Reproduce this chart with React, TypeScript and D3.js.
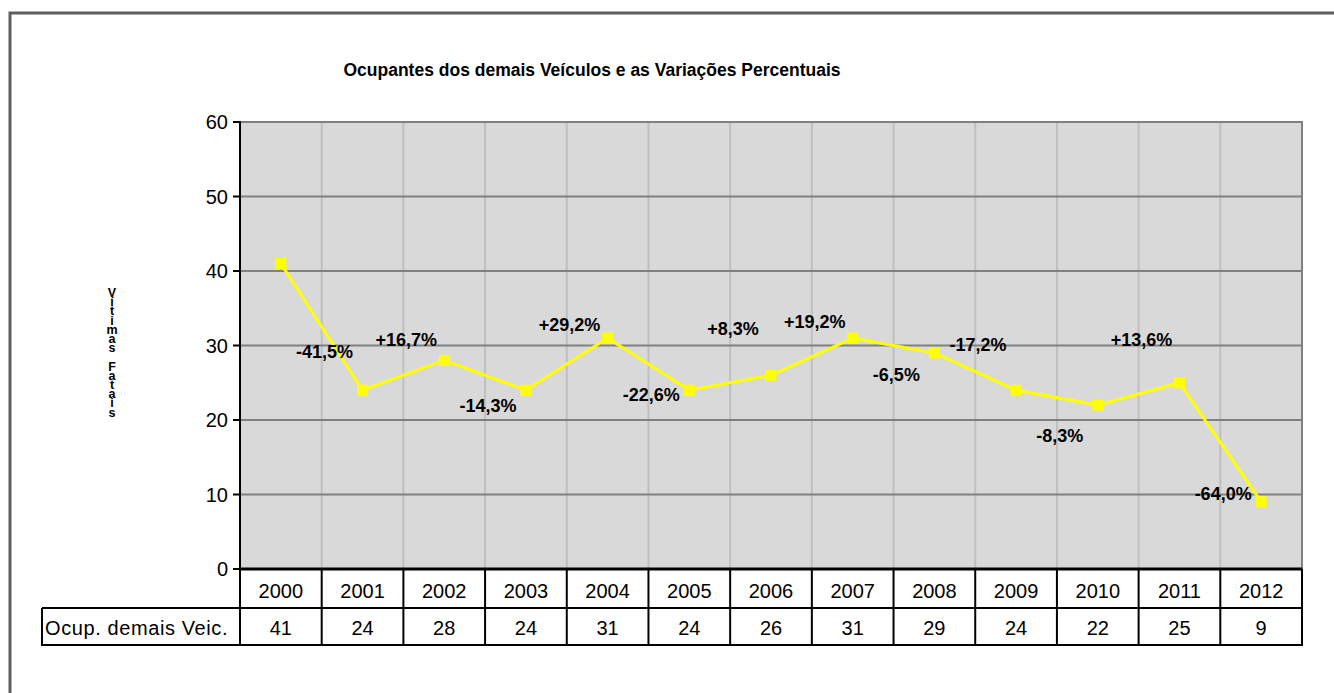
import React from "react";
import * as d3 from "d3";

const years = ["2000","2001","2002","2003","2004","2005","2006","2007","2008","2009","2010","2011","2012"];
const values = [41,24,28,24,31,24,26,31,29,24,22,25,9];
const pctLabels = ["","-41,5%","+16,7%","-14,3%","+29,2%","-22,6%","+8,3%","+19,2%","-6,5%","-17,2%","-8,3%","+13,6%","-64,0%"];
const pctLabelLevel = [0,29.2,30.8,21.9,32.8,23.4,32.3,33.2,26.1,30.1,17.9,30.8,10.1];
const yTicks = [0,10,20,30,40,50,60];
const seriesName = "Ocup. demais Veic.";
const title = "Ocupantes dos demais Veículos e as Variações Percentuais";
const yTitle = "Vítimas Fatais";

export default function App() {
  const W = 1334, H = 693;
  const left = 240, right = 1302, top = 122, bottom = 569;
  const x = d3.scaleBand<string>().domain(years).range([left, right]).padding(0);
  const y = d3.scaleLinear().domain([0, 60]).range([bottom, top]);
  const font = "'Liberation Sans', Arial, sans-serif";
  const line = d3.line<number>().x((_, i) => (x(years[i]) as number) + x.bandwidth() / 2).y(d => y(d));
  const row1Top = bottom, row2Top = 608, row2Bottom = 645;
  const tableLeft = 42;
  return (
    <svg width={W} height={H} style={{ position: "absolute", left: 0, top: 0 }} fontFamily={font}>
      <rect x={0} y={0} width={W} height={H} fill="#fff" />
      <rect x={10} y={13} width={1400} height={800} fill="none" stroke="#5f5f5f" strokeWidth={3} />
      <text x={592} y={76} textAnchor="middle" fontSize={17.5} fontWeight="bold">{title}</text>
      <rect x={left} y={top} width={right - left} height={bottom - top} fill="#d9d9d9" />
      {years.slice(1).map(yr => (
        <line key={yr} x1={x(yr)} x2={x(yr)} y1={top} y2={bottom} stroke="#c0c0c0" strokeWidth={2} />
      ))}
      {yTicks.slice(1).map(t => (
        <line key={t} x1={left} x2={right} y1={y(t)} y2={y(t)} stroke="#808080" strokeWidth={2} />
      ))}
      <line x1={right} x2={right} y1={top - 1} y2={bottom} stroke="#808080" strokeWidth={2} />
      <line x1={left} x2={left} y1={top - 1} y2={row2Bottom} stroke="#000" strokeWidth={2} />
      {yTicks.map(t => (
        <g key={t}>
          <line x1={233} x2={left} y1={y(t)} y2={y(t)} stroke="#000" strokeWidth={2} />
          <text x={228} y={y(t)} dy="0.35em" textAnchor="end" fontSize={20}>{t}</text>
        </g>
      ))}
      <text x={112} y={286} fontSize={12.5} fontWeight="bold" textAnchor="start"
        style={{ writingMode: "vertical-rl", textOrientation: "upright", letterSpacing: "-4.8px" } as any}>
        {yTitle}
      </text>
      <path d={line(values) || ""} fill="none" stroke="#ffff00" strokeWidth={3} />
      {values.map((v, i) => {
        const cx = (x(years[i]) as number) + x.bandwidth() / 2;
        return <rect key={i} x={cx - 5.5} y={y(v) - 5.5} width={11} height={11} fill="#ffff00" />;
      })}
      {pctLabels.map((l, i) => {
        if (!l) return null;
        const cx = (x(years[i]) as number) + x.bandwidth() / 2;
        return <text key={i} x={cx - 38} y={y(pctLabelLevel[i])} dy="0.35em" textAnchor="middle" fontSize={18} fontWeight="bold">{l}</text>;
      })}
      <line x1={left} x2={right} y1={row1Top} y2={row1Top} stroke="#000" strokeWidth={3} />
      <line x1={tableLeft} x2={right} y1={row2Top} y2={row2Top} stroke="#000" strokeWidth={2} />
      <line x1={tableLeft} x2={right + 1} y1={row2Bottom} y2={row2Bottom} stroke="#000" strokeWidth={2} />
      <line x1={tableLeft} x2={tableLeft} y1={row2Top} y2={row2Bottom + 1} stroke="#000" strokeWidth={2} />
      {years.slice(1).map(yr => (
        <line key={yr} x1={x(yr)} x2={x(yr)} y1={row1Top} y2={row2Bottom} stroke="#000" strokeWidth={2} />
      ))}
      <line x1={right} x2={right} y1={row1Top} y2={row2Bottom + 1} stroke="#000" strokeWidth={2} />
      {years.map((yr, i) => {
        const cx = (x(yr) as number) + x.bandwidth() / 2;
        return (
          <g key={yr}>
            <text x={cx} y={(row1Top + row2Top) / 2 + 2} dy="0.35em" textAnchor="middle" fontSize={20}>{yr}</text>
            <text x={cx} y={(row2Top + row2Bottom) / 2 + 1} dy="0.35em" textAnchor="middle" fontSize={20}>{values[i]}</text>
          </g>
        );
      })}
      <text x={tableLeft + 3} y={(row2Top + row2Bottom) / 2 + 1} dy="0.35em" fontSize={20} letterSpacing={0.6}>{seriesName}</text>
    </svg>
  );
}
